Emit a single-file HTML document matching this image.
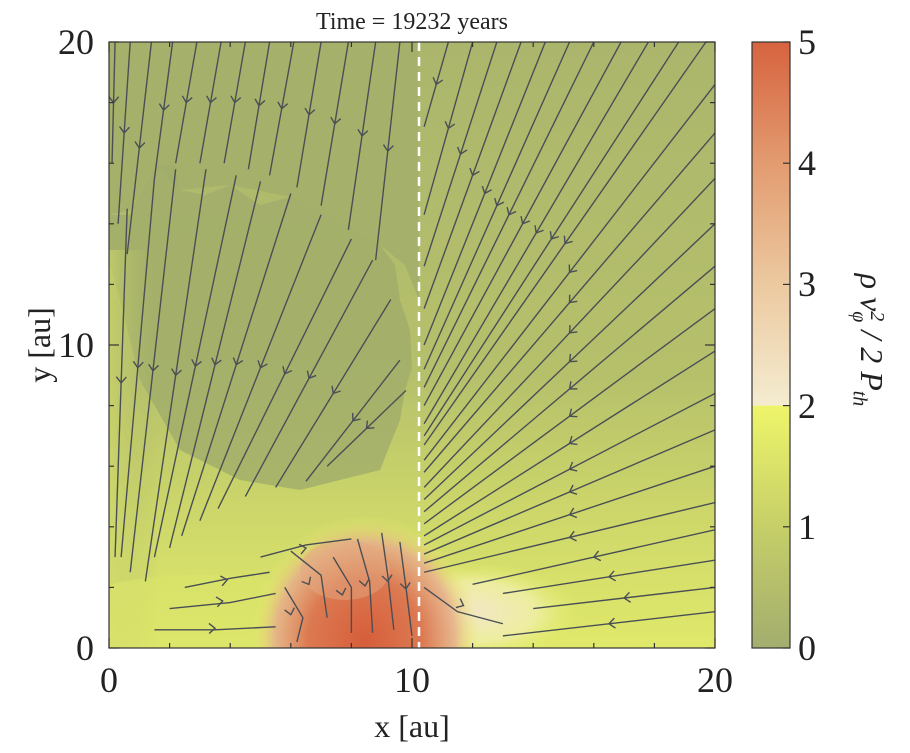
<!DOCTYPE html>
<html><head><meta charset="utf-8">
<style>
body{margin:0;background:#fff;width:910px;height:753px;overflow:hidden;font-family:"Liberation Serif",serif;}
svg{position:absolute;left:0;top:0}
.cbl{position:absolute;left:872px;top:340px;transform:rotate(90deg);transform-origin:center;white-space:nowrap;font-style:italic;font-size:32px;width:180px;height:44px;line-height:44px;text-align:center;margin-left:-90px;margin-top:-22px;color:#222}
</style></head>
<body>
<svg width="910" height="753">
<defs>
<clipPath id="pc"><rect x="109" y="42" width="606" height="606"/></clipPath>
<radialGradient id="blob" cx="0.5" cy="0.5" r="0.5">
<stop offset="0" stop-color="#d65e3a"/><stop offset="0.5" stop-color="#dc7a52"/><stop offset="0.78" stop-color="#e6b08a" stop-opacity="0.9"/><stop offset="1" stop-color="#e9f06a" stop-opacity="0"/></radialGradient>
<radialGradient id="cream" cx="0.5" cy="0.5" r="0.5">
<stop offset="0" stop-color="#f3e6c8"/><stop offset="0.6" stop-color="#f0efa8" stop-opacity="0.85"/><stop offset="1" stop-color="#e6ee6a" stop-opacity="0"/></radialGradient>
<linearGradient id="rg" x1="0" y1="0" x2="0" y2="1">
<stop offset="0" stop-color="#abb66c"/><stop offset="0.55" stop-color="#b6c06b"/><stop offset="0.8" stop-color="#cfd96a"/><stop offset="1" stop-color="#e0e96a"/></linearGradient>
<linearGradient id="lg" x1="0" y1="0" x2="1" y2="0">
<stop offset="0" stop-color="#cfd86a"/><stop offset="1" stop-color="#a7b36c" stop-opacity="0"/></linearGradient>
<linearGradient id="cb" x1="0" y1="1" x2="0" y2="0">
<stop offset="0" stop-color="#a3ad6e"/><stop offset="0.2" stop-color="#c6cf68"/><stop offset="0.399" stop-color="#eef56a"/><stop offset="0.401" stop-color="#f4ecd0"/><stop offset="0.6" stop-color="#ecc9a0"/><stop offset="0.8" stop-color="#e39b70"/><stop offset="1" stop-color="#d6633f"/></linearGradient>
</defs>
<g clip-path="url(#pc)">
<rect x="109" y="42" width="606" height="606" fill="url(#rg)"/>
<path d="M109,42 L419,42 L419,300 L405,265 L380,245 L320,212 L290,197 L230,185 L180,190 L155,165 L130,210 L109,215 Z" fill="#a5b16b"/>
<path d="M109,215 L130,215 L132,208 L155,165 L175,165 L180,190 L205,195 L230,185 L260,205 L290,197 L320,212 L345,225 L380,245 L395,265 L400,300 L410,330 L412,368 L405,390 L400,420 L380,470 L340,480 L300,490 L240,480 L180,450 L140,380 L120,300 L109,260 Z" fill="#a0ad6a" opacity="0.8"/>
<rect x="109" y="250" width="50" height="398" fill="url(#lg)" opacity="0.6"/>
<ellipse cx="200" cy="630" rx="160" ry="55" fill="#dbe46a" opacity="0.6"/>
<ellipse cx="470" cy="612" rx="110" ry="50" fill="url(#cream)"/>
<ellipse cx="365" cy="640" rx="115" ry="125" fill="url(#blob)"/>
<ellipse cx="345" cy="570" rx="45" ry="30" fill="#e4a880" opacity="0.5"/>
</g>
<g id="stream" clip-path="url(#pc)"></g>
<line x1="419" y1="42" x2="419" y2="648" stroke="#fff" stroke-width="2.5" stroke-dasharray="9,6"/>
<rect x="109" y="42" width="606" height="606" fill="none" stroke="#333" stroke-width="1.2"/>
<g id="ticks" stroke="#333" stroke-width="1.2"></g>
<g font-size="36" fill="#222" text-anchor="middle">
<text x="109" y="692">0</text><text x="412" y="692">10</text><text x="715" y="692">20</text>
<text x="94" y="660" text-anchor="end">0</text><text x="94" y="357" text-anchor="end">10</text><text x="94" y="54" text-anchor="end">20</text>
</g>
<text x="412" y="737" font-size="32" text-anchor="middle" fill="#222">x [au]</text>
<text transform="translate(50,345) rotate(-90)" font-size="32" text-anchor="middle" fill="#222">y [au]</text>
<text x="412" y="29" font-size="24" text-anchor="middle" fill="#222">Time = 19232 years</text>
<rect x="752" y="42" width="38" height="606" fill="url(#cb)" stroke="#333" stroke-width="1.2"/>
<g id="cbt" stroke="#333" stroke-width="1.2"></g>
<g font-size="36" fill="#222">
<text x="798" y="660">0</text><text x="798" y="539">1</text><text x="798" y="418">2</text><text x="798" y="296">3</text><text x="798" y="175">4</text><text x="798" y="54">5</text>
</g>
</svg>
<div class="cbl">ρ v<span style="display:inline-block;vertical-align:middle;font-size:20px;line-height:18px;text-align:left">2<br>φ</span> / 2 P<sub style="font-size:20px">th</sub></div>
<script>
const X=x=>109+x*30.3, Y=y=>648-y*30.3;
// right-side radial streamlines: [x1,y1,x2,y2] in au
const rightLines=[[11.2,20,10.4,17.2],[12,20,10.4,14.3],[12.8,20,10.4,12.6],[13.6,20,10.4,11.2],[14.4,20,10.4,10],[15.2,20,10.4,9.2],[16,20,10.4,8.6],[16.9,20,10.4,8],[17.8,20,10.4,7.4],[18.8,20,10.4,7],[19.7,20,10.4,6.7],
[20,18.6,10.4,6.2],[20,17,10.4,5.8],[20,15.5,10.4,5.3],[20,14,10.4,4.9],[20,12.6,10.4,4.5],[20,11.2,10.4,4.1],[20,9.8,10.4,3.7],[20,8.4,10.4,3.4],[20,7.2,10.4,3.1],[20,6,10.4,2.8],[20,4.8,10.4,2.5],[20,3.9,12,2.1],[20,2.9,13,1.8],[20,2,14,1.3],[20,1.2,13,0.4]];
// left-side streamlines
const leftLines=[[0.2,20,0.1,16],[0.7,20,0.3,14],[1.4,20,0.6,13],[2.1,20,1.5,15.5],[2.9,20,2.2,16],[3.7,20,3,16],[4.5,20,3.8,16],[5.3,20,4.6,15.8],[6.1,20,5.3,15.6],[7,20,6.2,15.2],[7.9,20,7,14.6],[8.8,20,7.9,13.8],[9.6,20,8.8,12.8],
[0.6,14.5,0.2,3],[1.5,15.5,0.4,3],[2.2,15.8,0.7,2.5],[3.2,15.8,1.2,2.2],[4.2,15.6,1.5,3],[5,15.4,2,3.3],[6,15,2.4,3.7],[7,14.3,3,4.2],[8,13.5,3.6,4.6],[8.7,12.8,4.5,5],[9.3,11.5,5.5,5.3],[9.6,9.5,6.5,5.5],[9.8,8.5,7.2,6]];
// bottom/blob streamlines
const blobLines=[[[2.5,2,4,2.3,5.3,2.5]],[[2,1.3,4,1.5,5.5,1.8]],[[1.5,0.6,3.5,0.6,5.5,0.7]],[[5,3,6.5,3.4,8,3.6]],[[6,3.2,7,2.4,7.2,1]],[[7.4,3,8,2,8,0.5]],[[8.2,3.6,8.6,2.2,8.7,0.5]],[[9,3.8,9.2,2.4,9.4,0.6]],[[9.6,3.5,9.8,2,10,0.4]],[[5.8,2,6.4,1,6.2,0.2]],[[10.4,2,11.5,1.2,13,0.8]]];
const g=document.getElementById('stream');
const NS='http://www.w3.org/2000/svg';
function addLine(pts){
  const p=document.createElementNS(NS,'polyline');
  
  
  p.setAttribute('points',pts.map(q=>X(q[0])+','+Y(q[1])).join(' '));
  p.setAttribute('fill','none');p.setAttribute('stroke','#4a4f55');p.setAttribute('stroke-width','1.4');
  g.appendChild(p);
  const a=pts[0],b=pts[pts.length-1];
  const mx=(X(a[0])+X(b[0]))/2,my=(Y(a[1])+Y(b[1]))/2;
  const ang=Math.atan2(Y(b[1])-Y(a[1]),X(b[0])-X(a[0]))*180/Math.PI;
  const ar=document.createElementNS(NS,'path');
  
  
  ar.setAttribute('d','M-6,-5 L0,0 L-6,5');
  ar.setAttribute('fill','none');ar.setAttribute('stroke','#4a4f55');ar.setAttribute('stroke-width','1.4');
  ar.setAttribute('transform','translate('+mx+','+my+') rotate('+ang+')');
  g.appendChild(ar);
}
rightLines.forEach(l=>addLine([[l[0],l[1]],[l[2],l[3]]]));
leftLines.forEach(l=>addLine([[l[0],l[1]],[l[2],l[3]]]));
blobLines.forEach(l=>{const f=l[0];const pts=[];for(let i=0;i<f.length;i+=2)pts.push([f[i],f[i+1]]);addLine(pts);});
const t=document.getElementById('ticks');
function tk(x1,y1,x2,y2){const l=document.createElementNS(NS,'line');l.setAttribute('x1',x1);l.setAttribute('y1',y1);l.setAttribute('x2',x2);l.setAttribute('y2',y2);t.appendChild(l);}
for(let v=0;v<=20;v+=2){const L=v%10==0?10:5;tk(X(v),648,X(v),648-L);tk(X(v),42,X(v),42+L);tk(109,Y(v),109+L,Y(v));tk(715,Y(v),715-L,Y(v));}
const c=document.getElementById('cbt');
for(let v=0;v<=5;v++){const l=document.createElementNS(NS,'line');const y=648-v*121.2;l.setAttribute('x1',790);l.setAttribute('x2',783);l.setAttribute('y1',y);l.setAttribute('y2',y);c.appendChild(l);}
</script>
</body></html>
